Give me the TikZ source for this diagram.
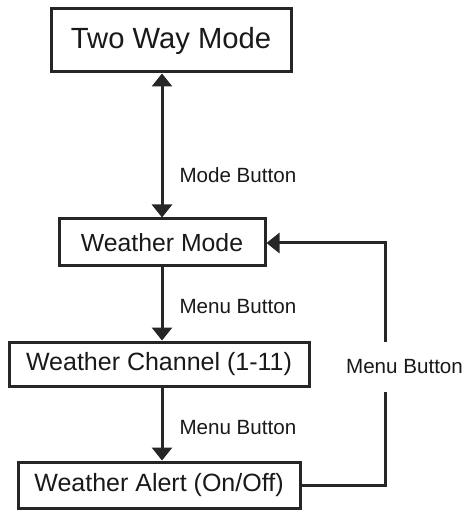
\documentclass[tikz,border=0pt]{standalone}
\usepackage{fontspec}
\setmainfont{Liberation Sans}
\usetikzlibrary{arrows.meta}
\begin{document}
\begin{tikzpicture}
[x=0.5pt,y=-0.5pt,line width=1.5pt,draw=black!85,
modebox/.style={rectangle,draw=black!85,line width=1.5pt,inner sep=0pt,text=black!90},
btnlabel/.style={font=\fontsize{10.3pt}{12pt}\selectfont,text=black!90,inner sep=0pt},
arr/.style={-{Triangle[width=10pt,length=6.5pt]}}]
\useasboundingbox (0,0) rectangle (465,512);
\node[modebox,minimum width=120pt,minimum height=31.5pt,font=\fontsize{14.6pt}{17pt}\selectfont] (twoway) at (171,40.5) {Two Way Mode};
\node[modebox,minimum width=103pt,minimum height=23.5pt,font=\fontsize{12.4pt}{15pt}\selectfont] (wmode) at (162,242.5) {Weather Mode};
\node[modebox,minimum width=150pt,minimum height=22pt,font=\fontsize{12.5pt}{15pt}\selectfont] (wchan) at (159,364) {Weather Channel (1-11)};
\node[modebox,minimum width=141pt,minimum height=23pt,font=\fontsize{12.5pt}{15pt}\selectfont] (walert) at (159,485) {Weather Alert (On/Off)};
\coordinate (c1) at (385,485);
\coordinate (c2) at (385,243);
\node[btnlabel,anchor=west] (l1) at (178,175) {Mode Button};
\node[btnlabel,anchor=west] (l2) at (178,307) {Menu Button};
\node[btnlabel,anchor=west] (l3) at (178,428) {Menu Button};
\draw[{Triangle[width=10pt,length=6.5pt]}-{Triangle[width=10pt,length=6.5pt]}] (twoway.south -| wmode.south) to (wmode.north);
\draw[arr] (wmode.south) to (wmode.south |- wchan.north);
\draw[arr] (wmode.south |- wchan.south) to (wmode.south |- walert.north);
\draw[arr] (walert.east |- c1) to (c1) to (c2) to (wmode.east |- c2);
\node[btnlabel,fill=white,inner ysep=9pt,inner xsep=0pt] (l4) at (404.5,367) {Menu Button};
\end{tikzpicture}
\end{document}
